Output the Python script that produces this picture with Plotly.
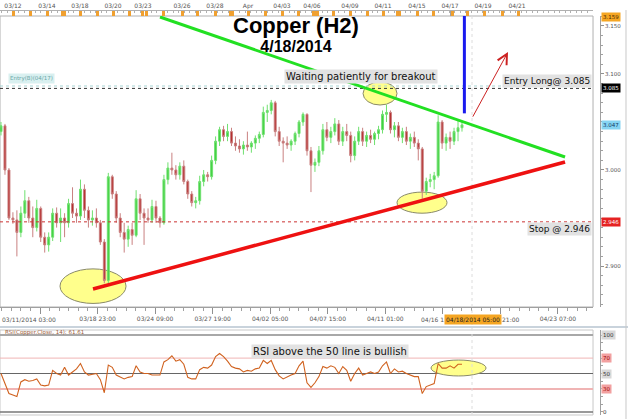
import plotly.graph_objects as go

# ---------------- data ----------------
opens = [3.040, 3.046, 3.000, 2.950, 2.948, 2.935, 2.955, 2.968, 2.950, 2.940,
         2.960, 2.930, 2.922, 2.930, 2.955, 2.945, 2.950, 2.945, 2.965, 2.955,
         2.952, 2.980, 2.958, 2.948, 2.950, 2.945, 2.925, 2.885, 2.993, 2.975,
         2.950, 2.935, 2.928, 2.938, 2.932, 2.970, 2.955, 2.950, 2.948, 2.962,
         2.950, 2.945, 2.990, 3.002, 3.000, 2.995, 3.004, 2.988, 2.975, 2.966,
         2.968, 2.988, 2.995, 2.993, 3.010, 3.030, 3.042, 3.035, 3.040, 3.028,
         3.025, 3.022, 3.026, 3.024, 3.028, 3.033, 3.037, 3.060, 3.062, 3.070,
         3.040, 3.030, 3.028, 3.026, 3.030, 3.038, 3.050, 3.058, 3.020, 3.005,
         3.008, 3.020, 3.042, 3.034, 3.040, 3.048, 3.030, 3.040, 3.036, 3.015,
         3.030, 3.040, 3.030, 3.036, 3.032, 3.038, 3.042, 3.058, 3.060, 3.042,
         3.046, 3.034, 3.040, 3.030, 3.034, 3.028, 3.022, 2.978, 2.988, 2.990,
         2.994, 3.050, 3.028, 3.034, 3.030, 3.040, 3.044]
highs = [3.050, 3.048, 3.002, 2.956, 2.958, 2.962, 2.979, 2.972, 2.962, 2.969,
         2.962, 2.935, 2.935, 2.960, 2.961, 2.960, 2.955, 2.970, 2.982, 2.960,
         2.990, 2.985, 2.962, 2.958, 2.960, 2.948, 2.928, 2.997, 2.995, 2.978,
         2.955, 2.945, 2.942, 2.945, 2.979, 2.975, 2.960, 2.960, 2.969, 2.968,
         2.952, 2.995, 3.008, 3.018, 3.005, 3.008, 3.010, 2.990, 2.978, 2.972,
         2.994, 3.000, 2.998, 3.015, 3.035, 3.045, 3.046, 3.048, 3.044, 3.035,
         3.032, 3.030, 3.040, 3.030, 3.036, 3.040, 3.066, 3.068, 3.073, 3.072,
         3.045, 3.034, 3.035, 3.032, 3.040, 3.052, 3.060, 3.059, 3.024, 3.012,
         3.025, 3.048, 3.050, 3.045, 3.054, 3.052, 3.045, 3.048, 3.040, 3.035,
         3.045, 3.044, 3.040, 3.042, 3.040, 3.046, 3.062, 3.068, 3.062, 3.050,
         3.050, 3.044, 3.045, 3.038, 3.040, 3.032, 3.024, 2.992, 2.996, 2.998,
         3.057, 3.052, 3.038, 3.040, 3.044, 3.052, 3.050]
lows = [3.036, 2.995, 2.948, 2.944, 2.910, 2.930, 2.950, 2.945, 2.930, 2.936,
        2.925, 2.914, 2.915, 2.926, 2.940, 2.925, 2.930, 2.940, 2.950, 2.945,
        2.948, 2.950, 2.940, 2.942, 2.940, 2.922, 2.882, 2.882, 2.970, 2.945,
        2.930, 2.914, 2.920, 2.922, 2.930, 2.948, 2.922, 2.945, 2.945, 2.945,
        2.940, 2.943, 2.985, 2.995, 2.990, 2.990, 2.985, 2.970, 2.962, 2.960,
        2.964, 2.983, 2.988, 2.990, 3.006, 3.025, 3.030, 3.030, 3.025, 3.020,
        3.018, 3.016, 3.020, 3.018, 3.022, 3.028, 3.034, 3.050, 3.058, 3.035,
        3.025, 3.008, 3.022, 3.020, 3.026, 3.034, 3.046, 3.015, 2.977, 2.998,
        3.004, 3.016, 3.030, 3.028, 3.036, 3.026, 3.025, 3.030, 3.008, 3.010,
        3.026, 3.025, 3.024, 3.028, 3.026, 3.032, 3.038, 3.050, 3.038, 3.034,
        3.030, 3.028, 3.026, 3.022, 3.024, 3.010, 2.970, 2.974, 2.982, 2.980,
        2.992, 3.022, 3.020, 3.022, 3.026, 3.030, 3.040]
closes = [3.046, 3.000, 2.950, 2.948, 2.935, 2.955, 2.968, 2.950, 2.940, 2.960,
          2.930, 2.922, 2.930, 2.955, 2.945, 2.950, 2.945, 2.965, 2.955, 2.952,
          2.980, 2.958, 2.948, 2.950, 2.945, 2.925, 2.885, 2.993, 2.975, 2.950,
          2.935, 2.928, 2.938, 2.932, 2.970, 2.955, 2.950, 2.948, 2.962, 2.950,
          2.945, 2.990, 3.002, 3.000, 2.995, 3.004, 2.988, 2.975, 2.966, 2.968,
          2.988, 2.995, 2.993, 3.010, 3.030, 3.042, 3.035, 3.040, 3.028, 3.025,
          3.022, 3.026, 3.024, 3.028, 3.033, 3.037, 3.060, 3.062, 3.070, 3.040,
          3.030, 3.028, 3.026, 3.030, 3.038, 3.050, 3.058, 3.020, 3.005, 3.008,
          3.020, 3.042, 3.034, 3.040, 3.048, 3.030, 3.040, 3.036, 3.015, 3.030,
          3.040, 3.030, 3.036, 3.032, 3.038, 3.042, 3.058, 3.060, 3.042, 3.046,
          3.034, 3.040, 3.030, 3.034, 3.028, 3.022, 2.978, 2.988, 2.990, 2.994,
          3.050, 3.028, 3.034, 3.030, 3.040, 3.044, 3.047]
rsi = [50, 38, 24, 22, 20, 39, 42, 40, 41, 43,
       35, 34, 35, 54, 50, 48, 58, 48, 52, 56,
       63, 52, 48, 49, 50, 42, 25, 61, 58, 48,
       45, 43, 45, 46, 60, 52, 50, 50, 48, 48,
       48, 65, 68, 73, 66, 68, 62, 45, 43, 43,
       55, 58, 57, 61, 72, 76, 72, 66, 59, 57,
       56, 52, 54, 53, 56, 57, 67, 63, 67, 55,
       47, 43, 46, 48, 50, 60, 66, 38, 32, 38,
       46, 59, 57, 60, 58, 50, 59, 54, 40, 50,
       57, 48, 50, 52, 50, 52, 60, 65, 50, 56,
       52, 53, 50, 48, 46, 46, 24, 33, 35, 37,
       63, 57, 57, 60, 57, 62, 62]
bar_index = list(range(len(closes)))

# axis labels
top_tick_idx = [3.02, 11.58, 19.88, 28.19, 35.73, 45.55, 53.85, 62.16, 70.71,
                78.26, 87.82, 96.13, 104.68, 112.99, 121.29, 129.85]
top_tick_text = ["03/12", "03/14", "03/18", "03/20", "03/23", "03/26", "03/28",
                 "Apr", "04/03", "04/06", "04/09", "04/11", "04/15", "04/17",
                 "04/19", "04/21"]
day_mark_idx = [3.02, 7.30, 11.58, 15.35, 15.86, 19.88, 24.16, 28.19, 32.46,
                35.73, 36.49, 40.77, 45.55, 49.57, 53.85, 57.63, 58.13, 62.16,
                66.43, 70.71, 74.74, 78.51, 79.02, 79.52, 83.55, 87.82, 92.10,
                96.13, 99.65, 100.15, 104.68, 108.71, 113.49, 117.27, 121.54,
                126.07, 130.10]
bottom_tick_idx = [9.82, 24.30, 38.78, 53.26, 67.74, 82.22, 96.70, 111.18,
                   125.66, 140.14]
bottom_tick_text = ["", "03/18 23:00", "03/24 09:00", "03/27 19:00",
                    "04/02 05:00", "04/07 15:00", "04/11 01:00", "",
                    "", "04/23 07:00"]
price_tick_vals = [2.90, 2.95, 3.00, 3.05, 3.10, 3.15]
price_tick_text = ["2.900", "", "3.000", "", "3.100", "3.150"]

# analyst levels and drawings (bar index, price)
entry_price = 3.085
entry_b_price = 3.0875
stop_price = 2.946
last_price = 3.047
high_price = 3.159
now_idx = 118.52
breakout_idx = 116.6
breakout_low = 3.059
green_trend_x = [40.01, 141.93]
green_trend_y = [3.1594, 3.0135]
red_trend_x = [23.15, 141.93]
red_trend_y = [2.876, 3.0083]
arrow_x = [118.52, 127.58]
arrow_y = [3.054, 3.123]
ellipses_price = [(14.85, 31.46, 2.861, 2.897),
                  (91.10, 99.65, 3.0677, 3.0917),
                  (99.65, 112.23, 2.955, 2.977)]
ellipse_rsi = (108.21, 122.05, 46.8, 67.5)
rsi_levels = [100, 70, 50, 30, 0]

# ---------------- layout geometry ----------------
XR = [-0.25, 148.97]
XDOM = [0, 0.9443]
YR_MAIN = [2.8573, 3.1604]
YDOM_MAIN = [0.2673, 0.9618]
YDOM_RSI = [0.00955, 0.2124]
AXPOS = 0.9554
LABEL_Y = 0.2363
SMALL = dict(family="DejaVu Sans", size=6, color="#555555")

fig = go.Figure()
fig.add_trace(go.Candlestick(
    x=bar_index, open=opens, high=highs, low=lows, close=closes,
    increasing=dict(line=dict(color="#6fe06f", width=1), fillcolor="#3fd03f"),
    decreasing=dict(line=dict(color="#c98080", width=1), fillcolor="#b52d2d"),
    xaxis="x", yaxis="y", showlegend=False, hoverinfo="skip"))
fig.add_trace(go.Scatter(x=[], y=[], xaxis="x2", yaxis="y", showlegend=False))
fig.add_trace(go.Scatter(x=[], y=[], xaxis="x3", yaxis="y", showlegend=False))
fig.add_trace(go.Scatter(
    x=bar_index, y=rsi, mode="lines", line=dict(color="#d0621f", width=1.1),
    xaxis="x4", yaxis="y2", showlegend=False, hoverinfo="skip"))

shapes = []
# panel frames
shapes.append(dict(type="rect", xref="x domain", yref="y domain", x0=0, x1=1,
                   y0=0, y1=1, line=dict(color="#b0b0b0", width=1), layer="below"))
shapes.append(dict(type="rect", xref="x4 domain", yref="y2 domain", x0=0, x1=1,
                   y0=0, y1=1, line=dict(color="#c8c8c8", width=1), layer="below"))
# separator and right frame
shapes.append(dict(type="line", xref="paper", yref="paper", x0=0, x1=1,
                   y0=0.2196, y1=0.2196, line=dict(color="#c9d3dc", width=2)))
shapes.append(dict(type="line", xref="paper", yref="paper", x0=0.9968, x1=0.9968,
                   y0=0, y1=0.976, line=dict(color="#c8c8c8", width=1)))
# ellipses (below traces)
for x0, x1, y0, y1 in ellipses_price:
    shapes.append(dict(type="circle", xref="x", yref="y", x0=x0, x1=x1, y0=y0, y1=y1,
                       fillcolor="#ffff8c", line=dict(color="#8a8a6a", width=1),
                       layer="below"))
shapes.append(dict(type="circle", xref="x4", yref="y2", x0=ellipse_rsi[0],
                   x1=ellipse_rsi[1], y0=ellipse_rsi[2], y1=ellipse_rsi[3],
                   fillcolor="#ffff8c", line=dict(color="#8a8a6a", width=1),
                   layer="below"))
# current time dotted line
shapes.append(dict(type="line", xref="x", yref="paper", x0=now_idx, x1=now_idx,
                   y0=0.00955, y1=0.9618, line=dict(color="#dcdcdc", width=1, dash="dot")))
# horizontal levels
shapes.append(dict(type="line", xref="x domain", yref="y", x0=0, x1=1,
                   y0=entry_b_price, y1=entry_b_price,
                   line=dict(color="#a8d4d4", width=1, dash="dot")))
shapes.append(dict(type="line", xref="x domain", yref="y", x0=0, x1=1,
                   y0=entry_price, y1=entry_price,
                   line=dict(color="#333333", width=1, dash="dot")))
shapes.append(dict(type="line", xref="x domain", yref="y", x0=0, x1=1,
                   y0=stop_price, y1=stop_price,
                   line=dict(color="#cc3333", width=1, dash="dot")))
# trend lines
shapes.append(dict(type="line", xref="x", yref="y", x0=green_trend_x[0], x1=green_trend_x[1],
                   y0=green_trend_y[0], y1=green_trend_y[1],
                   line=dict(color="#22e022", width=3)))
shapes.append(dict(type="line", xref="x", yref="y", x0=red_trend_x[0], x1=red_trend_x[1],
                   y0=red_trend_y[0], y1=red_trend_y[1],
                   line=dict(color="#ee1111", width=3.5)))
# breakout marker
shapes.append(dict(type="line", xref="x", yref="y", x0=breakout_idx, x1=breakout_idx,
                   y0=breakout_low, y1=YR_MAIN[1],
                   line=dict(color="#1a1aee", width=3)))
# RSI levels
rsi_line_style = {100: ("#a8a8a8", 2), 70: ("#f0b4b4", 1), 50: ("#666666", 1),
                  30: ("#f0b4b4", 2), 0: ("#777777", 1.5)}
for lv in rsi_levels:
    c, w = rsi_line_style[lv]
    shapes.append(dict(type="line", xref="x4 domain", yref="y2", x0=0, x1=1,
                       y0=lv, y1=lv, line=dict(color=c, width=w), layer="below"))


def note(text, x, y, xref, yref, xanchor="center", yanchor="middle", **kw):
    d = dict(text=text, x=x, y=y, xref=xref, yref=yref, xanchor=xanchor,
             yanchor=yanchor, showarrow=False)
    d.update(kw)
    return d


ann = []
ann.append(note("<b><span style='font-size:22px'>Copper (H2)</span></b><br>"
                "<b><span style='font-size:16px'>4/18/2014</span></b>",
                0.4716, 0.9200, "paper", "paper", align="center",
                font=dict(family="Liberation Sans", size=14.5, color="#000")))
ann.append(note("Waiting patiently for breakout", 90.59, 3.0979, "x", "y",
                bgcolor="#e2e2e2", borderpad=1,
                font=dict(family="DejaVu Sans", size=10, color="#111")))
ann.append(note("Entry Long@ 3.085", 0.9427, 3.0922, "paper", "y", xanchor="right",
                bgcolor="#e2e2e2", borderpad=1,
                font=dict(family="DejaVu Sans", size=9, color="#111")))
ann.append(note("Stop @ 2.946", 0.9427, 2.9385, "paper", "y", xanchor="right",
                bgcolor="#e2e2e2", borderpad=1,
                font=dict(family="DejaVu Sans", size=9, color="#111")))
ann.append(note("Entry(B)(04/17)", 0.0127, 3.0948, "paper", "y", xanchor="left",
                bgcolor="#d9f0f0", borderpad=1,
                font=dict(family="DejaVu Sans", size=5.5, color="#6aa8a8")))
ann.append(note("RSI above the 50 line is bullish", 82.79, 79.2, "x4", "y2",
                bgcolor="#e2e2e2", borderpad=1,
                font=dict(family="DejaVu Sans", size=10, color="#111")))
ann.append(note("RSI(Copper.Close, 14): 61.61", 0.005, 0.2053, "paper", "paper",
                xanchor="left", font=dict(family="DejaVu Sans", size=5.5, color="#a0603a")))
# arrow
ann.append(dict(text="", x=arrow_x[1], y=arrow_y[1], ax=arrow_x[0], ay=arrow_y[0],
                xref="x", yref="y", axref="x", ayref="y", showarrow=True,
                arrowhead=5, arrowsize=2, arrowwidth=1, arrowcolor="#cc2222"))
# right-side price boxes
price_boxes = [(high_price, "#f5a623", "#4a2a00"), (entry_price, "#000000", "#ffffff"),
               (last_price, "#86d4f2", "#123a66"), (stop_price, "#e52222", "#ffffff")]
for val, bg, fc in price_boxes:
    ann.append(note(f"{val:.3f}", AXPOS + 0.002, val, "paper", "y", xanchor="left",
                    bgcolor=bg, borderpad=1,
                    font=dict(family="DejaVu Sans", size=5.5, color=fc)))
# RSI level labels
rsi_label_style = {100: ("#d8d8d8", "#333"), 70: ("#f2a0a0", "#a00000"),
                   50: ("#d8d8d8", "#333"), 30: ("#f2a0a0", "#a00000"),
                   0: ("rgba(0,0,0,0)", "#333")}
for lv in rsi_levels:
    bg, fc = rsi_label_style[lv]
    ann.append(note(str(lv), AXPOS + 0.002, lv, "paper", "y2", xanchor="left",
                    bgcolor=bg, borderpad=1,
                    font=dict(family="DejaVu Sans", size=5.5, color=fc)))
# bottom labels that are clipped by the current-time box in the reference
ann.append(note("03/11/2014 03:00", 0.0, LABEL_Y, "paper", "paper", xanchor="left",
                font=SMALL))
ann.append(note("04/16 1", 111.9, LABEL_Y, "x", "paper", xanchor="right", font=SMALL))
ann.append(note("21:00", 125.45, LABEL_Y, "x", "paper", xanchor="left", font=SMALL))
ann.append(note("04/18/2014 05:00", 118.77, LABEL_Y, "x", "paper",
                bgcolor="#f5a623", borderpad=1,
                font=dict(family="DejaVu Sans", size=6, color="#222")))

fig.update_layout(
    width=628, height=419, margin=dict(l=0, r=0, t=0, b=0),
    paper_bgcolor="white", plot_bgcolor="white", showlegend=False,
    shapes=shapes, annotations=ann,
    xaxis=dict(domain=XDOM, range=XR, anchor="y", showgrid=False, zeroline=False,
               rangeslider=dict(visible=False), showline=True, linecolor="#a0a0a0",
               tickmode="array", tickvals=bottom_tick_idx, ticktext=bottom_tick_text,
               ticks="outside", ticklen=6, tickcolor="#909090", tickfont=SMALL,
               minor=dict(tickmode="linear", tick0=9.82, dtick=2.413, ticks="outside",
                          ticklen=3, tickcolor="#a0a0a0")),
    xaxis2=dict(overlaying="x", range=XR, anchor="free", position=0.976, side="top",
                showgrid=False, zeroline=False, showline=True, linecolor="#b0b0b0",
                tickmode="array", tickvals=top_tick_idx, ticktext=top_tick_text,
                ticks="inside", ticklen=5, tickcolor="#a0a0a0", tickfont=SMALL,
                minor=dict(tickmode="linear", tick0=3.02, dtick=1.39, ticks="inside",
                           ticklen=2, tickcolor="#b0b0b0")),
    xaxis3=dict(overlaying="x", range=XR, anchor="free", position=0.976, side="top",
                showgrid=False, zeroline=False, showline=False, showticklabels=False,
                tickmode="array", tickvals=day_mark_idx, ticks="inside", ticklen=5,
                tickwidth=3, tickcolor="#f0a030"),
    xaxis4=dict(domain=XDOM, range=XR, anchor="y2", showgrid=False, zeroline=False,
                showticklabels=False, ticks="", showline=False),
    yaxis=dict(domain=YDOM_MAIN, range=YR_MAIN, anchor="free", position=AXPOS,
               side="right", showgrid=False, zeroline=False, showline=True,
               linecolor="#a0a0a0", ticks="outside", ticklen=3, tickcolor="#909090",
               tickmode="array", tickvals=price_tick_vals, ticktext=price_tick_text,
               tickfont=dict(family="DejaVu Sans", size=5.5, color="#555"),
               minor=dict(tickmode="linear", tick0=3.0, dtick=0.01, ticks="outside",
                          ticklen=2, tickcolor="#a0a0a0")),
    yaxis2=dict(domain=YDOM_RSI, range=[-3.9, 106.5], anchor="free", position=AXPOS,
                side="right", showgrid=False, zeroline=False, showline=True,
                linecolor="#a0a0a0", ticks="outside", ticklen=2, tickcolor="#a0a0a0",
                dtick=10, showticklabels=False),
)

fig.write_html("out.html", config={"displayModeBar": False},
               post_script="document.body.style.margin='0px';"
                           "document.body.style.padding='0px';")
